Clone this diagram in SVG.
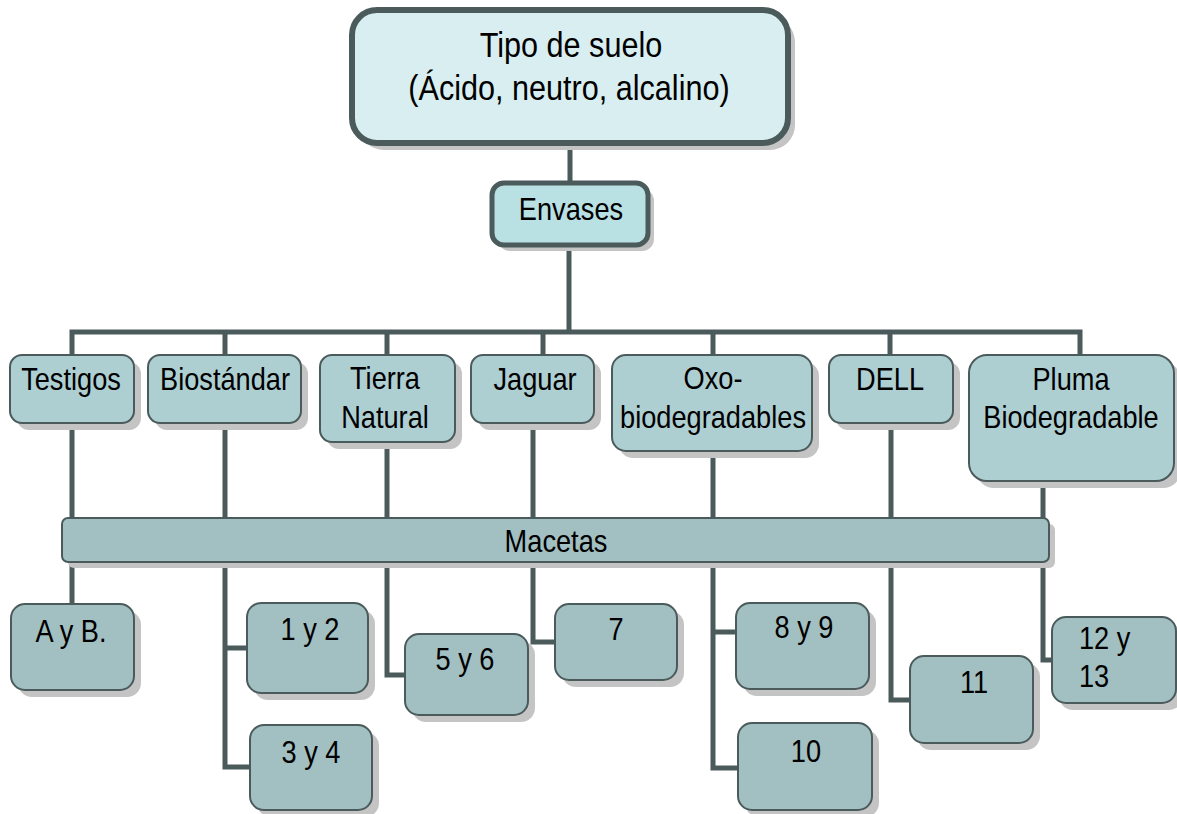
<svg xmlns="http://www.w3.org/2000/svg" width="1177" height="814" viewBox="0 0 1177 814">
<style>
.sh{fill:#c4c4c4}
.top{fill:#d9eef0;stroke:#4b5b5b;stroke-width:6}
.env{fill:#b9e0e3;stroke:#4b5b5b;stroke-width:5}
.mid{fill:#aecfd2;stroke:#4b5b5b;stroke-width:2}
.bot{fill:#a2bfc1;stroke:#4b5b5b;stroke-width:2}
.c{fill:none;stroke:#4b5b5b;stroke-width:5}
text{font-family:"Liberation Sans",Arial,sans-serif;font-size:32px;fill:#000;text-anchor:middle}
.big{font-size:36px}
.l{text-anchor:start}
</style>
<rect width="1177" height="814" fill="#fff"/>
<g id="connectors">
<path class="c" d="M570 143V183M569 245V332M72 355V332H1080V355M225 332V355M387 332V355M543 332V355M713 332V355M890 332V355"/>
<path class="c" d="M72 423V604M225 423V767H250M225 648H247M387 442V675H405M533 423V642H555M713 451V768H738M713 632H736M891 423V700H910M1043 484V660H1052"/>
</g>
<g id="n-top">
<rect class="sh" x="359" y="17" width="436" height="133" rx="25"/>
<rect class="top" x="352" y="10" width="436" height="133" rx="25"/>
<text class="big" transform="translate(571,57) scale(0.85,1)">Tipo de suelo</text>
<text class="big" transform="translate(569,100) scale(0.85,1)">(Ácido, neutro, alcalino)</text>
</g>
<g id="n-envases">
<rect class="sh" x="498" y="189" width="156" height="62" rx="12"/>
<rect class="env" x="492" y="183" width="156" height="62" rx="12"/>
<text transform="translate(571,220) scale(0.85,1)">Envases</text>
</g>
<g id="n-testigos">
<rect class="sh" x="17" y="362" width="124" height="68" rx="12"/>
<rect class="mid" x="10" y="355" width="124" height="68" rx="12"/>
<text transform="translate(71,390) scale(0.85,1)">Testigos</text>
</g>
<g id="n-biostandar">
<rect class="sh" x="155" y="362" width="153" height="68" rx="12"/>
<rect class="mid" x="148" y="355" width="153" height="68" rx="12"/>
<text transform="translate(225,390) scale(0.85,1)">Biostándar</text>
</g>
<g id="n-tierra">
<rect class="sh" x="327" y="362" width="135" height="87" rx="12"/>
<rect class="mid" x="320" y="355" width="135" height="87" rx="12"/>
<text transform="translate(385,389) scale(0.85,1)">Tierra</text>
<text transform="translate(385,428) scale(0.85,1)">Natural</text>
</g>
<g id="n-jaguar">
<rect class="sh" x="478" y="362" width="123" height="68" rx="12"/>
<rect class="mid" x="471" y="355" width="123" height="68" rx="12"/>
<text transform="translate(535,390) scale(0.85,1)">Jaguar</text>
</g>
<g id="n-oxo">
<rect class="sh" x="619" y="362" width="200" height="96" rx="14"/>
<rect class="mid" x="612" y="355" width="200" height="96" rx="14"/>
<text transform="translate(713,389) scale(0.85,1)">Oxo-</text>
<text transform="translate(713,428) scale(0.85,1)">biodegradables</text>
</g>
<g id="n-dell">
<rect class="sh" x="836" y="362" width="124" height="68" rx="12"/>
<rect class="mid" x="829" y="355" width="124" height="68" rx="12"/>
<text transform="translate(890,390) scale(0.85,1)">DELL</text>
</g>
<g id="n-pluma">
<rect class="sh" x="976" y="362" width="205" height="126" rx="18"/>
<rect class="mid" x="969" y="355" width="205" height="126" rx="18"/>
<text transform="translate(1071,390) scale(0.85,1)">Pluma</text>
<text transform="translate(1071,428) scale(0.85,1)">Biodegradable</text>
</g>
<g id="n-macetas">
<rect class="sh" x="68" y="524" width="987" height="44" rx="6"/>
<rect class="bot" x="62" y="518" width="987" height="44" rx="6"/>
<text transform="translate(556,552) scale(0.85,1)">Macetas</text>
</g>
<g id="n-ayb">
<rect class="sh" x="18" y="611" width="123" height="86" rx="14"/>
<rect class="bot" x="11" y="604" width="123" height="86" rx="14"/>
<text transform="translate(71,642) scale(0.85,1)">A y B.</text>
</g>
<g id="n-1y2">
<rect class="sh" x="254" y="610" width="121" height="90" rx="14"/>
<rect class="bot" x="247" y="603" width="121" height="90" rx="14"/>
<text transform="translate(310,640) scale(0.85,1)">1 y 2</text>
</g>
<g id="n-3y4">
<rect class="sh" x="257" y="732" width="122" height="85" rx="14"/>
<rect class="bot" x="250" y="725" width="122" height="85" rx="14"/>
<text transform="translate(311,763) scale(0.85,1)">3 y 4</text>
</g>
<g id="n-5y6">
<rect class="sh" x="412" y="641" width="123" height="81" rx="14"/>
<rect class="bot" x="405" y="634" width="123" height="81" rx="14"/>
<text transform="translate(465,670) scale(0.85,1)">5 y 6</text>
</g>
<g id="n-7">
<rect class="sh" x="562" y="611" width="122" height="76" rx="14"/>
<rect class="bot" x="555" y="604" width="122" height="76" rx="14"/>
<text transform="translate(616,640) scale(0.85,1)">7</text>
</g>
<g id="n-8y9">
<rect class="sh" x="743" y="610" width="133" height="86" rx="14"/>
<rect class="bot" x="736" y="603" width="133" height="86" rx="14"/>
<text transform="translate(804,638) scale(0.85,1)">8 y 9</text>
</g>
<g id="n-10">
<rect class="sh" x="745" y="730" width="134" height="87" rx="14"/>
<rect class="bot" x="738" y="723" width="134" height="87" rx="14"/>
<text transform="translate(806,762) scale(0.85,1)">10</text>
</g>
<g id="n-11">
<rect class="sh" x="917" y="663" width="123" height="87" rx="14"/>
<rect class="bot" x="910" y="656" width="123" height="87" rx="14"/>
<text transform="translate(974,693) scale(0.85,1)">11</text>
</g>
<g id="n-12y13">
<rect class="sh" x="1059" y="624" width="124" height="86" rx="14"/>
<rect class="bot" x="1052" y="617" width="124" height="86" rx="14"/>
<text class="l" transform="translate(1079,649) scale(0.85,1)">12 y</text>
<text class="l" transform="translate(1079,687) scale(0.85,1)">13</text>
</g>
</svg>
